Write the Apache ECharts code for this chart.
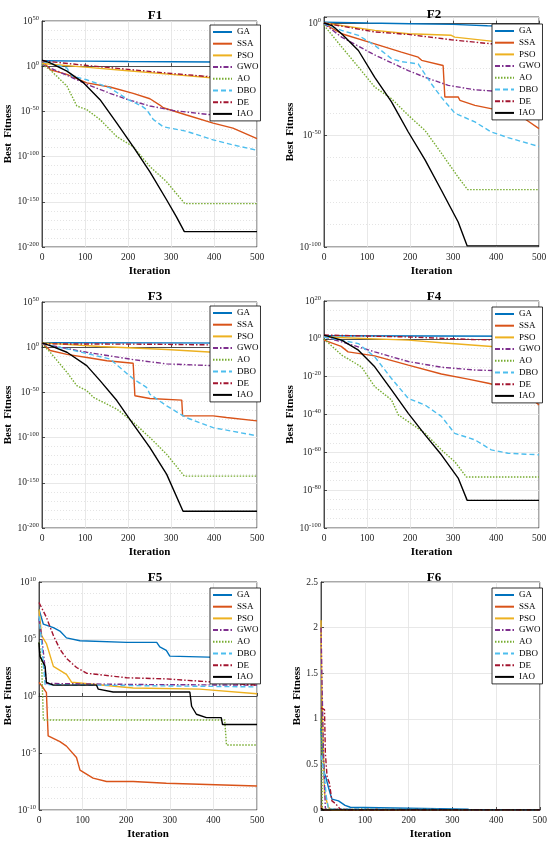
<!DOCTYPE html>
<html>
<head>
<meta charset="utf-8">
<script src="https://cdn.jsdelivr.net/npm/echarts@6/dist/echarts.min.js"></script>
<style>
html, body { margin: 0; padding: 0; background: #fff; }
#chart { width: 550px; height: 845px; }
</style>
</head>
<body>
<div id="chart"></div>
<script>
// algorithms in legend order
var algos = ['GA', 'SSA', 'PSO', 'GWO', 'AO', 'DBO', 'DE', 'IAO'];

// F1..F5: [iteration, log10(best fitness)]   F6: [iteration, best fitness]
var f1_GA  = [[0,6],[100,5.6],[200,5.2],[300,5],[400,4.6],[500,3.5]];
var f1_SSA = [[0,6],[20,-4],[58,-9],[104,-18.5],[158,-23],[212,-30],[251,-36],[274,-43],[282,-46],[336,-54],[398,-63],[444,-68.5],[500,-80]];
var f1_PSO = [[0,3],[100,-1],[200,-5],[300,-9],[400,-13],[500,-18]];
var f1_GWO = [[0,2],[58,-10],[104,-20],[158,-30],[200,-37],[251,-44],[305,-49],[398,-54],[500,-57]];
var f1_AO  = [[0,2],[19,-4],[58,-22],[81,-44],[104,-48],[135,-59],[174,-78],[212,-89],[251,-111],[290,-128],[332,-152],[500,-152]];
var f1_DBO = [[0,5.5],[58,-2],[62,-4],[70,-11],[104,-15],[158,-24],[200,-37],[232,-44],[243,-48],[259,-59],[282,-67],[336,-72],[398,-81.5],[444,-87],[500,-93]];
var f1_DE  = [[0,6],[100,1],[200,-3.5],[300,-8],[400,-12],[500,-16]];
var f1_IAO = [[0,6.7],[19,3.7],[58,-5.5],[97,-18.5],[135,-37],[174,-63],[212,-89],[251,-117],[290,-148],[313,-167],[331,-183],[500,-183]];

var f2_GA  = [[0,0.7],[100,0.3],[200,0],[300,-0.3],[380,-0.9],[500,-1.2]];
var f2_SSA = [[0,0],[41,-4.5],[118,-9],[180,-12.7],[219,-15],[227,-16.4],[277,-18.7],[281,-32.8],[312,-32.8],[316,-34.3],[351,-36.6],[428,-39.6],[470,-43],[500,-47]];
var f2_PSO = [[0,0.3],[118,-3],[196,-4.5],[296,-5.2],[304,-6],[389,-7.8],[500,-10.4]];
var f2_GWO = [[0,0],[41,-6],[118,-14],[196,-21],[235,-24],[289,-27.6],[351,-29.6],[428,-30.6],[500,-32]];
var f2_AO  = [[0,-0.7],[41,-10.4],[80,-19.4],[118,-28.4],[157,-33.6],[196,-41],[235,-47.8],[273,-58],[312,-68.7],[334,-74.3],[500,-74.3]];
var f2_DBO = [[0,0],[41,-3],[80,-5.2],[118,-9.7],[157,-15.7],[180,-17],[219,-18],[250,-27],[273,-33],[304,-40],[351,-44],[389,-48.5],[428,-51],[500,-55]];
var f2_DE  = [[0,0.3],[118,-3.7],[196,-4.8],[296,-7.2],[389,-9],[500,-11.6]];
var f2_IAO = [[0,0.3],[20,-1],[41,-4.5],[80,-12],[118,-24],[157,-35],[196,-48.5],[235,-61],[273,-74.6],[312,-88.8],[333,-99.5],[500,-99.5]];

var f3_GA  = [[0,5],[250,4.8],[500,4.5]];
var f3_SSA = [[0,4.8],[19,-3.7],[58,-8],[112,-12],[151,-15],[212,-17.8],[216,-53.7],[251,-56.7],[325,-58.5],[327,-76],[398,-76],[429,-77.8],[500,-81.5]];
var f3_PSO = [[0,4.8],[135,0.7],[290,-2.6],[398,-5.6],[500,-8]];
var f3_GWO = [[0,3.7],[104,-5.6],[212,-13.7],[290,-18.5],[398,-20.4],[500,-22]];
var f3_AO  = [[0,3.7],[19,-5.6],[58,-27.8],[81,-42.6],[104,-48],[120,-55.6],[174,-68.5],[212,-83],[251,-100],[290,-118.5],[331,-142.6],[500,-142.6]];
var f3_DBO = [[0,3.7],[58,-1.8],[158,-13],[212,-35],[243,-44.4],[251,-52],[290,-65],[336,-78],[398,-89],[500,-98]];
var f3_DE  = [[0,3.7],[250,3.3],[500,2]];
var f3_IAO = [[0,4.8],[19,1.8],[58,-5.6],[104,-20.4],[135,-37],[174,-59],[212,-85],[251,-111],[290,-140.7],[328,-181.5],[500,-181.5]];

var f4_GA  = [[0,1.6],[250,1.5],[500,1.4]];
var f4_SSA = [[0,-0.7],[40,-4],[56,-6.9],[118,-9],[196,-13.9],[273,-18.6],[335,-21.3],[382,-23.5],[428,-26],[482,-31.5],[500,-35]];
var f4_PSO = [[0,1],[196,-0.7],[273,-2.1],[382,-3.9],[500,-6]];
var f4_GWO = [[0,1],[41,-1.6],[118,-6.9],[196,-12],[273,-15],[351,-16.5],[500,-17.4]];
var f4_AO  = [[0,0],[41,-8.6],[87,-14.8],[118,-25.3],[157,-32.3],[173,-40.2],[196,-43.8],[235,-49.9],[273,-58.7],[304,-64.9],[331,-73],[500,-73]];
var f4_DBO = [[0,1],[80,-2.5],[118,-9.5],[157,-21],[196,-31.5],[235,-35],[273,-41],[304,-50],[351,-53.4],[389,-58.7],[428,-60.5],[500,-61.3]];
var f4_DE  = [[0,2],[196,1],[351,-0.4],[428,-0.6],[500,-2]];
var f4_IAO = [[0,2],[41,-0.7],[80,-6],[118,-14.8],[157,-27],[196,-39.4],[235,-50.8],[273,-61.3],[312,-73.6],[333,-85.4],[500,-85.4]];

var f5_GA  = [[0,7.6],[10,6.3],[33,6],[48,5.7],[63,5.1],[94,4.85],[201,4.7],[270,4.7],[277,4.3],[292,4],[300,3.5],[500,3.3]];
var f5_SSA = [[0,1.2],[10,0.7],[17,0.3],[21,-3.5],[48,-4],[63,-4.4],[86,-5.4],[94,-6.5],[124,-7.2],[155,-7.5],[216,-7.5],[292,-7.65],[500,-7.9]];
var f5_PSO = [[0,7.6],[6,5.3],[17,4.6],[33,2.6],[63,1.9],[75,1.2],[216,0.7],[369,0.6],[500,0.2]];
var f5_GWO = [[0,6.8],[6,5.3],[12,3.1],[17,1.1],[250,1],[500,0.95]];
var f5_AO  = [[0,4.7],[2,4.8],[6,2.9],[10,-2.1],[426,-2.1],[430,-4.3],[500,-4.3]];
var f5_DBO = [[0,7],[6,4.7],[14,1],[250,0.9],[500,0.8]];
var f5_DE  = [[0,8.2],[17,6.9],[33,5.3],[48,4.1],[63,3.3],[86,2.5],[109,2],[201,1.6],[292,1.5],[369,1.3],[500,0.95]];
var f5_IAO = [[0,4.7],[2,3.5],[14,2.6],[17,1.2],[33,0.95],[132,0.95],[136,0.6],[170,0.35],[346,0.35],[350,-0.9],[361,-1.6],[384,-1.9],[418,-1.9],[421,-2.5],[500,-2.5]];

var f6_GA  = [[0,0.9],[3,0.69],[8,0.4],[11,0.36],[17,0.25],[21,0.18],[25,0.12],[40,0.1],[55,0.05],[67,0.03],[200,0.02],[335,0.01],[340,0],[500,0]];
var f6_SSA = [[0,0.05],[3,0.01],[10,0],[500,0]];
var f6_PSO = [[0,2.08],[2,1.3],[8,0.18],[17,0.03],[25,0],[500,0]];
var f6_GWO = [[0,2.0],[2,1.46],[6,0.55],[10,0.01],[500,0]];
var f6_AO  = [[0,1.0],[2,0.6],[3,0.01],[500,0]];
var f6_DBO = [[0,0.6],[4,0.5],[8,0.36],[12,0.15],[17,0.01],[500,0]];
var f6_DE  = [[0,1.12],[8,1.1],[10,0.62],[14,0.36],[19,0.3],[25,0.1],[33,0.07],[44,0.01],[50,0],[500,0]];
var f6_IAO = [[0,0.02],[5,0],[500,0]];

var xTicks = [0, 500, 100];   // min, max, step

var colors = ['#0072BD', '#D95319', '#EDB120', '#7E2F8E', '#77AC30', '#4DBEEE', '#A2142F', '#000000'];
var dashes = ['solid', 'solid', 'solid', [5, 2, 1.5, 2], [1.5, 1.5], [5, 3], [5, 2, 1.5, 2], 'solid'];
var serif = "'Liberation Serif', 'Times New Roman', serif";

var panels = [
	{ title: 'F1', data: [f1_GA, f1_SSA, f1_PSO, f1_GWO, f1_AO, f1_DBO, f1_DE, f1_IAO], log: true,
	  y: [-200, 50, 50, 5], grid: [42, 21, 215, 226], tx: 150, ty: 4, lg: [210, 25], gap: 28 },
	{ title: 'F2', data: [f2_GA, f2_SSA, f2_PSO, f2_GWO, f2_AO, f2_DBO, f2_DE, f2_IAO], log: true,
	  y: [-100, 3, 50, 5], grid: [324, 17, 215, 230], tx: 429, ty: 3, lg: [492, 24], gap: 26 },
	{ title: 'F3', data: [f3_GA, f3_SSA, f3_PSO, f3_GWO, f3_AO, f3_DBO, f3_DE, f3_IAO], log: true,
	  y: [-200, 50, 50, 5], grid: [42, 302, 215, 226], tx: 150, ty: 285, lg: [210, 306], gap: 28 },
	{ title: 'F4', data: [f4_GA, f4_SSA, f4_PSO, f4_GWO, f4_AO, f4_DBO, f4_DE, f4_IAO], log: true,
	  y: [-100, 20, 20, 4], grid: [324, 301, 215, 227], tx: 429, ty: 285, lg: [492, 307], gap: 26 },
	{ title: 'F5', data: [f5_GA, f5_SSA, f5_PSO, f5_GWO, f5_AO, f5_DBO, f5_DE, f5_IAO], log: true,
	  y: [-10, 10, 5, 5], grid: [39, 582, 218, 228], tx: 150, ty: 566, lg: [210, 588], gap: 25 },
	{ title: 'F6', data: [f6_GA, f6_SSA, f6_PSO, f6_GWO, f6_AO, f6_DBO, f6_DE, f6_IAO], log: false,
	  y: [0, 2.5, 0.5, 0], grid: [321, 582, 219, 228], tx: 429, ty: 566, lg: [492, 588], gap: 15 }
];

var titles = [], grids = [], xAxes = [], yAxes = [], legends = [], series = [];

panels.forEach(function (p, i) {
	titles.push({
		text: p.title, left: p.tx, top: p.ty, textAlign: 'center',
		textStyle: { fontFamily: serif, fontWeight: 'bold', fontSize: 13, color: '#000' }
	});
	grids.push({
		left: p.grid[0], top: p.grid[1], width: p.grid[2], height: p.grid[3],
		show: true, borderColor: '#262626', borderWidth: 0.8, backgroundColor: '#fff'
	});
	xAxes.push({
		type: 'value', gridIndex: i, min: xTicks[0], max: xTicks[1], interval: xTicks[2],
		name: 'Iteration', nameLocation: 'middle', nameGap: 19,
		nameTextStyle: { fontFamily: serif, fontWeight: 'bold', fontSize: 11, color: '#000' },
		axisLine: { lineStyle: { color: '#262626', width: 0.8 } },
		axisTick: { inside: true, length: 3, lineStyle: { color: '#262626', width: 0.8 } },
		axisLabel: { fontFamily: serif, fontSize: 9.5, color: '#262626', margin: 5 },
		splitLine: { lineStyle: { color: '#e2e2e2', width: 0.8 } }
	});
	var step = p.y[2];
	yAxes.push({
		type: 'value', gridIndex: i, min: p.y[0], max: p.y[1], interval: step,
		name: 'Best  Fitness', nameLocation: 'middle', nameGap: p.gap,
		nameTextStyle: { fontFamily: serif, fontWeight: 'bold', fontSize: 11, color: '#000' },
		axisLine: { show: true, lineStyle: { color: '#262626', width: 0.8 } },
		axisTick: { show: true, inside: true, length: 3, lineStyle: { color: '#262626', width: 0.8 } },
		axisLabel: {
			margin: 3, fontFamily: serif, fontSize: 9.5, color: '#262626',
			formatter: p.log ? function (v) {
				if (Math.abs(v % step) > 1e-9) return '';
				return '{b|10}{s|' + v + '}';
			} : null,
			rich: {
				b: { fontFamily: serif, fontSize: 9.5, color: '#262626' },
				s: { fontFamily: serif, fontSize: 6.5, color: '#262626', padding: [0, 0, 6, 0] }
			}
		},
		splitLine: { lineStyle: { color: '#e2e2e2', width: 0.8 } },
		minorTick: { show: false, splitNumber: p.y[3] || 5 },
		minorSplitLine: { show: p.y[3] > 0, lineStyle: { color: '#d8d8d8', width: 0.7, type: [1, 2] } }
	});
	legends.push({
		left: p.lg[0], top: p.lg[1], orient: 'vertical', data: algos,
		itemWidth: 19, itemHeight: 8, itemGap: 1.7,
		itemStyle: { opacity: 0 },   // no marker, only the line sample
		backgroundColor: '#fff', borderColor: '#000', borderWidth: 0.8, padding: [2, 2, 2, 2],
		textStyle: { fontFamily: serif, fontSize: 9, color: '#000', lineHeight: 10 },
		z: 10
	});
	algos.forEach(function (a, j) {
		series.push({
			name: a, type: 'line', xAxisIndex: i, yAxisIndex: i,
			data: p.data[j], symbol: 'none', smooth: false,
			lineStyle: { color: colors[j], width: 1.4, type: dashes[j] },
			itemStyle: { color: colors[j] }
		});
	});
});

var myChart = echarts.init(document.getElementById('chart'));
myChart.setOption({
	animation: false,
	backgroundColor: '#fff',
	title: titles,
	grid: grids,
	xAxis: xAxes,
	yAxis: yAxes,
	legend: legends,
	series: series
});
</script>
</body>
</html>
